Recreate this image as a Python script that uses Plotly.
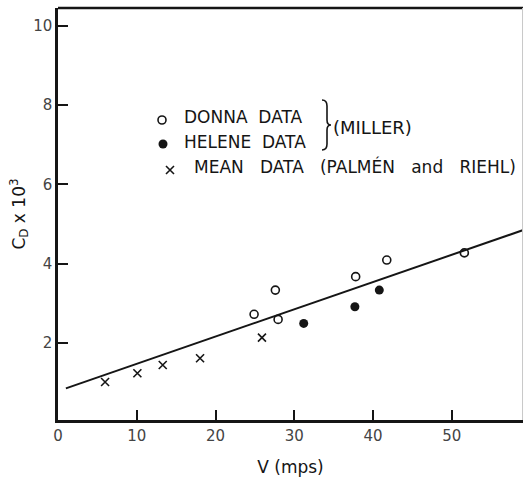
import plotly.graph_objects as go

# ---- data ----
mean_v = [5.98, 10.08, 13.3, 18.04, 25.9]
mean_cd = [1.01, 1.23, 1.44, 1.61, 2.13]

donna_v = [24.9, 27.6, 27.95, 37.8, 41.75, 51.6]
donna_cd = [2.72, 3.33, 2.59, 3.67, 4.09, 4.27]

helene_v = [31.2, 37.7, 40.8]
helene_cd = [2.49, 2.91, 3.33]

fit_v = [1.0, 60.0]
fit_cd = [0.85, 4.91]

x_ticks = [0, 10, 20, 30, 40, 50]
y_ticks = [2, 4, 6, 8, 10]

# ---- layout helpers (pixel -> paper / data) ----
W, H = 524, 481
ML, MR, MT, MB = 58, 1, 8, 61
PW, PH = W - ML - MR, H - MT - MB
XS, YS, Y0 = 7.875, 39.6, 0.05


def px(x):
    return (x - ML) / PW


def py(y):
    return (H - MB - y) / PH


def dx(x):
    return (x - ML) / XS


def dy(y):
    return Y0 + (H - MB - y) / YS


FONT = "DejaVu Sans"
INK = "#151515"

open_circle = dict(symbol="circle-open", size=8, color=INK,
                   line=dict(color=INK, width=1.6))
filled_circle = dict(symbol="circle", size=9, color=INK)
cross = dict(symbol="x-thin-open", size=8, color=INK,
             line=dict(color=INK, width=1.6))

fig = go.Figure()
fig.add_trace(go.Scatter(x=fit_v, y=fit_cd, mode="lines",
                         line=dict(color=INK, width=2), hoverinfo="skip"))
fig.add_trace(go.Scatter(x=mean_v, y=mean_cd, mode="markers", marker=cross))
fig.add_trace(go.Scatter(x=donna_v, y=donna_cd, mode="markers",
                         marker=open_circle))
fig.add_trace(go.Scatter(x=helene_v, y=helene_cd, mode="markers",
                         marker=filled_circle))

# legend key symbols
fig.add_trace(go.Scatter(x=[dx(162)], y=[dy(120)], mode="markers",
                         marker=open_circle, hoverinfo="skip"))
fig.add_trace(go.Scatter(x=[dx(163)], y=[dy(144)], mode="markers",
                         marker=filled_circle, hoverinfo="skip"))
fig.add_trace(go.Scatter(x=[dx(170)], y=[dy(170)], mode="markers",
                         marker=cross, hoverinfo="skip"))

sp = "\u00a0\u00a0"
sp3 = "\u00a0\u00a0\u00a0"
ann = [
    (182, 117, "DONNA" + sp + "DATA", 17),
    (182, 142, "HELENE" + sp + "DATA", 17),
    (192, 166, "MEAN" + sp3 + "DATA" + sp3 + "(PALMÉN" + sp3 + "and" + sp3
     + "RIEHL)", 17),
    (331, 128, "(MILLER)", 18),
]
for x, y, t, s in ann:
    fig.add_annotation(x=px(x), y=py(y), xref="paper", yref="paper",
                       text=t, showarrow=False, xanchor="left",
                       yanchor="middle",
                       font=dict(family=FONT, size=s, color=INK))

# brace
bx = 322
path = (f"M {px(bx)},{py(100)} Q {px(bx+5)},{py(100)} {px(bx+5)},{py(106)} "
        f"L {px(bx+5)},{py(120)} Q {px(bx+5)},{py(125)} {px(bx+9)},{py(125)} "
        f"Q {px(bx+5)},{py(125)} {px(bx+5)},{py(130)} "
        f"L {px(bx+5)},{py(144)} Q {px(bx+5)},{py(150)} {px(bx)},{py(150)}")
fig.add_shape(type="path", path=path, xref="paper", yref="paper",
              line=dict(color=INK, width=1.6))

# top frame line and faint right edge
fig.add_shape(type="line", xref="paper", yref="paper", x0=0, x1=1, y0=1, y1=1,
              line=dict(color=INK, width=2.5))
fig.add_shape(type="line", xref="paper", yref="paper", x0=0.999, x1=0.999,
              y0=0, y1=1, line=dict(color="#c8c8c8", width=1))

fig.update_layout(
    width=W, height=H,
    margin=dict(l=ML, r=MR, t=MT, b=MB),
    paper_bgcolor="white", plot_bgcolor="white",
    showlegend=False,
    xaxis=dict(range=[0, PW / XS], tickvals=x_ticks, ticks="inside",
               ticklen=10, tickwidth=2, tickcolor=INK,
               showline=True, linecolor=INK, linewidth=2.5,
               showgrid=False, zeroline=False,
               tickfont=dict(family=FONT, size=15, color="#444"),
               title=dict(text="V (mps)", standoff=18,
                          font=dict(family=FONT, size=17, color=INK))),
    yaxis=dict(range=[Y0, Y0 + PH / YS], tickvals=y_ticks,
               ticks="inside", ticklen=10, tickwidth=2, tickcolor=INK,
               showline=True, linecolor=INK, linewidth=2.5,
               showgrid=False, zeroline=False,
               tickfont=dict(family=FONT, size=15, color="#444"),
               title=dict(text="C<sub>D</sub> x 10<sup>3</sup>", standoff=4,
                          font=dict(family=FONT, size=17, color=INK))),
)

fig.write_html("out.html")
